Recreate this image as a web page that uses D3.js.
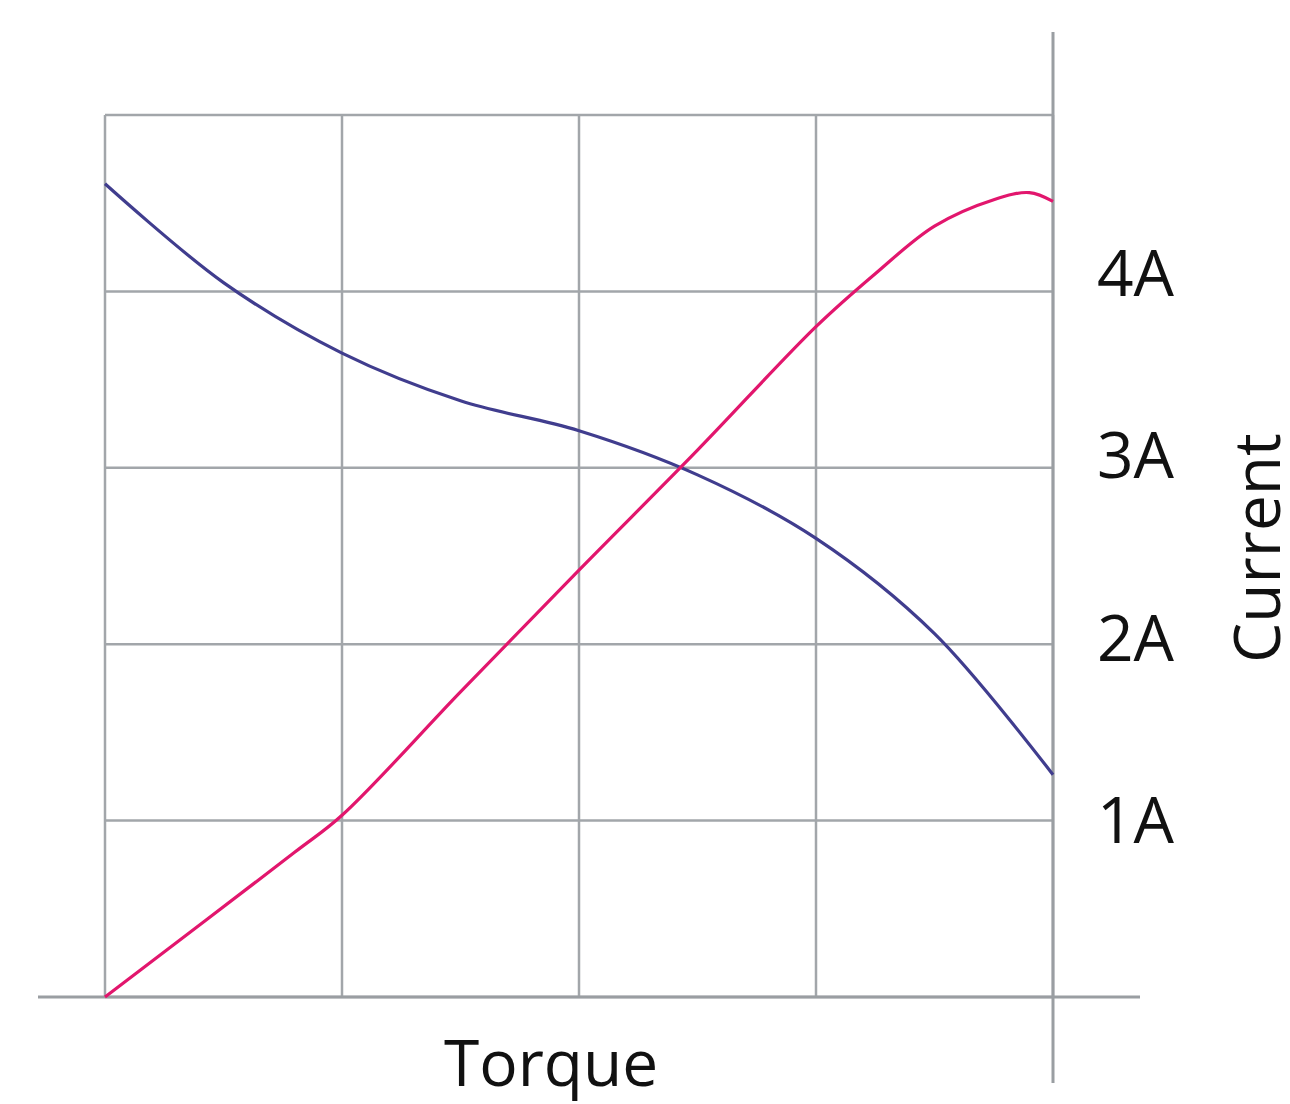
<!DOCTYPE html>
<html>
<head>
<meta charset="utf-8">
<script src="https://cdn.jsdelivr.net/npm/d3@7"></script>
<style>
  html, body { margin: 0; padding: 0; background: #fff; }
  svg text { font-family: "Open Sans", sans-serif; fill: #111; }
</style>
</head>
<body>
<svg id="chart" width="1290" height="1104"></svg>
<script>
// blue (falling) curve
var torqueBlue = [0, 0.5, 1, 1.5, 2, 2.5, 3, 3.5, 4];
var speedCurve = [4.61, 4.05, 3.65, 3.38, 3.21, 2.96, 2.6, 2.06, 1.26];

// pink (rising) curve
var torquePink = [0, 0.8, 1, 1.5, 2, 2.5, 3, 3.25, 3.5, 3.75, 3.9, 4];
var currentCurve = [0, 0.82, 1.03, 1.73, 2.42, 3.1, 3.8, 4.1, 4.37, 4.52, 4.56, 4.51];

var yTicks = [1, 2, 3, 4];
var yTickLabels = ['1A', '2A', '3A', '4A'];
var xGrid = [0, 1, 2, 3, 4];
var yGrid = [0, 1, 2, 3, 4, 5];

var svg = d3.select('#chart');
var x = d3.scaleLinear().domain([0, 4]).range([105, 1053]);
var y = d3.scaleLinear().domain([0, 5]).range([997, 115]);
// tick labels drift a little from the grid lines in the original
var yLabel = d3.scaleLinear().domain([1, 4]).range([y(1) + 22, y(4) + 5]);

var gridColor = '#a2a6aa';

// grid
var grid = svg.append('g').attr('class', 'grid');
grid.selectAll('line.v').data(xGrid).enter().append('line')
	.attr('class', 'v')
	.attr('x1', function (d) { return x(d); })
	.attr('x2', function (d) { return x(d); })
	.attr('y1', y(0))
	.attr('y2', y(5))
	.style('stroke', gridColor)
	.style('stroke-width', 2.5);
grid.selectAll('line.h').data(yGrid).enter().append('line')
	.attr('class', 'h')
	.attr('x1', x(0))
	.attr('x2', x(4))
	.attr('y1', function (d) { return y(d); })
	.attr('y2', function (d) { return y(d); })
	.style('stroke', gridColor)
	.style('stroke-width', 2.5);

// axis lines, running past the grid
svg.append('line')
	.attr('x1', x(0) - 67).attr('x2', x(4) + 87)
	.attr('y1', y(0)).attr('y2', y(0))
	.style('stroke', '#9a9ea2').style('stroke-width', 3);
svg.append('line')
	.attr('x1', x(4)).attr('x2', x(4))
	.attr('y1', y(5) - 83).attr('y2', y(0) + 86)
	.style('stroke', '#9a9ea2').style('stroke-width', 3);

// curves
var blueLine = d3.line()
	.x(function (d, i) { return x(torqueBlue[i]); })
	.y(function (d) { return y(d); })
	.curve(d3.curveCatmullRom.alpha(0.5));
var pinkLine = d3.line()
	.x(function (d, i) { return x(torquePink[i]); })
	.y(function (d) { return y(d); })
	.curve(d3.curveCatmullRom.alpha(0.5));

svg.append('path').datum(speedCurve)
	.attr('d', blueLine)
	.style('fill', 'none')
	.style('stroke', '#403d8e')
	.style('stroke-width', 3.2);
svg.append('path').datum(currentCurve)
	.attr('d', pinkLine)
	.style('fill', 'none')
	.style('stroke', '#e2166d')
	.style('stroke-width', 3.2);

// right tick labels
svg.selectAll('text.tick').data(yTicks).enter().append('text')
	.attr('class', 'tick')
	.attr('x', x(4) + 44)
	.attr('y', function (d) { return yLabel(d); })
	.style('font-size', '64px')
	.text(function (d, i) { return yTickLabels[i]; });

// axis titles
svg.append('text')
	.attr('x', 551)
	.attr('y', y(0) + 89)
	.attr('text-anchor', 'middle')
	.style('font-size', '64px')
	.text('Torque');
svg.append('text')
	.attr('transform', 'translate(1280,' + ((y(0) + y(5)) / 2 - 8) + ') rotate(-90)')
	.attr('text-anchor', 'middle')
	.style('font-size', '64px')
	.text('Current');
</script>
</body>
</html>
